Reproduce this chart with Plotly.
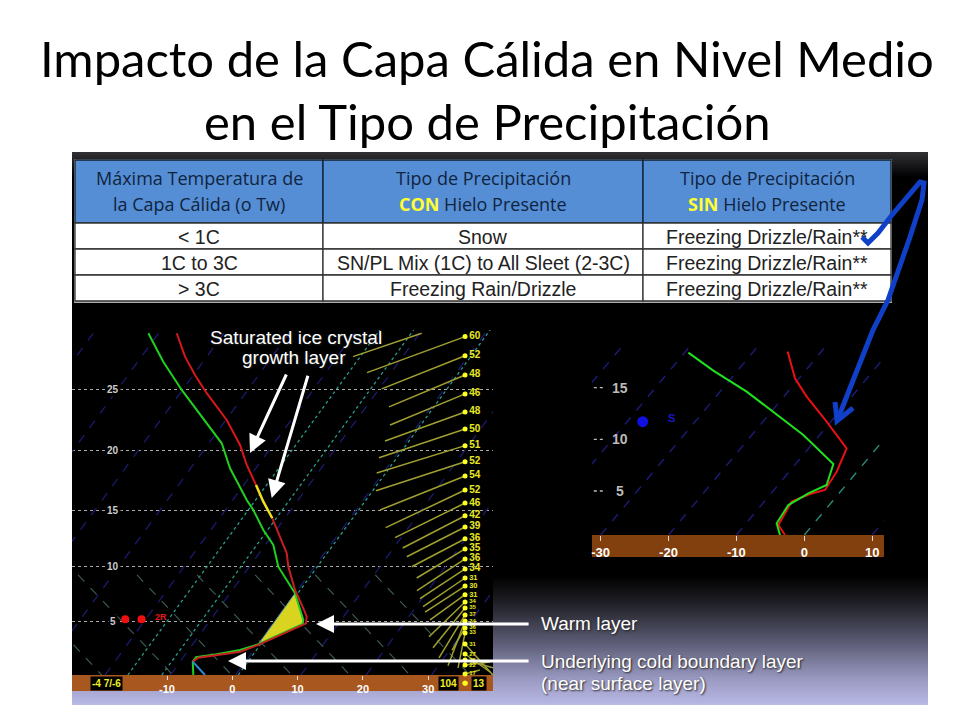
import numpy as np
import plotly.graph_objects as go

# tabla
table_header = [["Máxima Temperatura de", "la Capa Cálida (o Tw)"],
                ["Tipo de Precipitación", "<b style='color:#ffff33'>CON</b> Hielo Presente"],
                ["Tipo de Precipitación", "<b style='color:#ffff33'>SIN</b> Hielo Presente"]]
table_col1 = ["< 1C", "1C to 3C", "> 3C"]
table_col2 = ["Snow", "SN/PL Mix (1C) to All Sleet (2-3C)", "Freezing Rain/Drizzle"]
table_col3 = ["Freezing Drizzle/Rain**", "Freezing Drizzle/Rain**", "Freezing Drizzle/Rain**"]

# sondeo izquierdo (temperatura C, altura kft de la escala dibujada)
left_red_t = [-8.51, -7.24, -5.71, -3.92, -0.86, 1.18, 2.21, 3.63]
left_red_h = [29.82, 27.81, 26.23, 24.66, 22.36, 20.21, 18.49, 16.76]
left_yellow_t = [3.63, 4.75, 6.13]
left_yellow_h = [16.76, 15.33, 13.9]
left_red2_t = [6.13, 7.04, 8.33, 8.58, 9.6, 10.87, 11.39, 11.29, 3.98, 1.18, -2.39, -5.21, -6.06]
left_red2_h = [13.9, 12.61, 10.89, 9.73, 7.73, 6.15, 5.43, 4.86, 3.0, 2.42, 2.13, 1.9, 1.56]
left_blue_t = [-6.06, -4.18]
left_blue_h = [1.56, 0.41]
left_green_t = [-12.86, -10.57, -7.75, -5.45, -1.62, -0.35, 2.21, 3.22, 4.75, 6.28, 7.04, 9.6,
                10.87, 10.78, 3.98, 1.18, -2.39, -5.56, -6.06, -5.97]
left_green_h = [29.82, 27.37, 24.94, 23.22, 20.35, 18.2, 15.47, 14.61, 12.89, 11.6, 9.73, 7.44,
                5.15, 4.8, 3.06, 2.56, 2.19, 1.94, 1.56, 0.41]
warm_t = [9.6, 10.87, 10.78, 3.98, 9.6]
warm_h = [7.44, 5.15, 4.8, 3.06, 7.44]

# viento
wind_labels = ["60", "52", "48", "46", "48", "50", "51", "52", "54", "52", "46", "42", "39", "36", "35", "36",
               "34", "31", "30", "31", "34", "35", "37", "34", "36", "33", "31", "27", "25", "22", "17"]
wind_h = [29.53, 27.89, 26.23, 24.6, 23.05, 21.58, 20.15, 18.77, 17.54, 16.33, 15.21, 14.12, 13.15, 12.14,
          11.26, 10.4, 9.54, 8.76, 8.07, 7.32, 6.7, 6.18, 5.58, 5.06, 4.46, 4.03, 3.08, 2.22, 1.7, 1.27, 0.5]
barb_end_t = [20.63, 22.88, 24.0, 24.15, 23.38, 22.46, 22.11, 22.0, 22.62, 23.49, 24.92, 26.09, 26.71, 27.47,
              28.24, 28.28, 28.74, 29.2, 29.51, 30.28, 30.12, 30.74, 31.65, 33.03, 33.64, 34.57, 39.9, 39.46,
              40.2, 39.46, 37.9]
barb_end_h = [26.43, 25.03, 23.48, 21.93, 20.55, 19.11, 17.8, 16.27, 14.61, 13.09, 12.23, 11.34, 10.59, 9.73,
              8.76, 7.67, 6.98, 6.29, 5.83, 5.15, 3.71, 2.76, 1.88, 1.21, 2.56, 1.02, 0.41, 0.67, 1.0, 1.53, 0.84]
wind_axis_t = 35.64

# rejilla
left_ticks = [-10, 0, 10, 20, 30]
left_height_pos = [5, 9.73, 14.61, 19.69, 25]
left_height_labels = ["5", "10", "15", "20", "25"]
left_isotherms = [-59.5, -49.5, -39.5, -29.5, -19.5, -9.5, 0.5, 10.5, 20.5, 30.5]
left_teal = [-16, -10.8, 0.9]
left_cross_top = [-23.6, -14.6, -5.4, 3.5, 12.7, 21.9]

# sondeo derecho
right_red_t = [-2.45, -1.37, 0.35, 3.29, 6.24, 4.77, 3.05, 0.84, -1.86, -3.09, -3.82, -2.84]
right_red_h = [18.49, 15.91, 14.13, 11.71, 9.13, 6.87, 5.1, 4.71, 3.97, 2.52, 1.71, 0.74]
right_green_t = [-17.08, -13.4, -8.49, -4.56, -0.14, 4.28, 3.29, 0.59, -2.35, -4.07, -3.58]
right_green_h = [18.39, 16.65, 14.62, 12.68, 10.42, 7.61, 5.58, 4.77, 3.64, 1.87, 0.74]
right_ticks = [-30, -20, -10, 0, 10]
right_heights = [5, 10, 15]
right_isotherms = [-50, -40, -30, -20, -10, 10]

# trazo azul a mano (pixeles de la diapositiva)
ink_stroke = [(862, 237), (868, 243), (878, 233), (892, 215), (920, 182), (924, 183), (922, 200),
              (910, 237), (888, 300), (873, 330), (837, 421)]
ink_head = [(835, 402), (837, 421), (853, 408)]

# degradado del fondo
grad_y = [575, 600, 620, 640, 660, 680, 705]
grad_r = [0, 28, 58, 88, 122, 155, 185]
grad_b = [0, 34, 72, 112, 155, 195, 230]

# the page keeps its 8px body margin, so the figure sits inside it
W, H = 944, 704
OFFSET = 8


def px(x):
    return (x - OFFSET) / W


def py(y):
    return 1 - (y - OFFSET) / H


def ink_path(points):
    return "M " + " L ".join(f"{px(a):.4f},{py(b):.4f}" for a, b in points)


def rect(x0, x1, y0, y1, color, line=None, layer="below"):
    return dict(type="rect", xref="paper", yref="paper", x0=px(x0), x1=px(x1), y0=py(y1), y1=py(y0),
                fillcolor=color, line=dict(color=line, width=1.3) if line else dict(width=0), layer=layer)


def label(txt, x, y, font, anchor="center", **kw):
    return dict(text=txt, x=px(x), y=py(y), xref="paper", yref="paper", showarrow=False,
                xanchor=anchor, yanchor="middle", font=font, **kw)


fig = go.Figure()


def line(xs, ys, color, width=2, dash=None, axes=("x", "y")):
    fig.add_trace(go.Scatter(x=xs, y=ys, mode="lines", xaxis=axes[0], yaxis=axes[1], hoverinfo="skip",
                             line=dict(color=color, width=width, dash=dash)))


# rejilla izquierda
for t0 in left_isotherms:
    line([t0, t0 + 40], [0.41, 31.2], "#1c1c78", 1.2, "dash")
for t0 in left_teal:
    line([t0, t0 + 40], [0.41, 31.2], "#2a9a8c", 1.3, "dot")
for t0 in left_cross_top:
    line([t0, t0 + 14.5], [9.02, 0.41], "#3f5f58", 1.1, "dash")
line([-24.3, -20], [3.0, 0.41], "#3f5f58", 1.1, "dash")

# viento
line([18.48, 29.0], [27.81, 29.82], "#a0a030", 1.5)
for end_t, end_h, h in zip(barb_end_t, barb_end_h, wind_h):
    line([end_t, wind_axis_t], [end_h, h], "#a0a030", 1.5)
wind_sizes = [10 if h > 9 else 7.5 if h > 7 else 6 for h in wind_h]
fig.add_trace(go.Scatter(x=[wind_axis_t] * len(wind_h), y=wind_h, mode="markers+text", text=wind_labels,
                         textposition="middle right", hoverinfo="skip", cliponaxis=False,
                         textfont=dict(family="Liberation Sans", size=wind_sizes, color="#e8e820", weight=700),
                         marker=dict(color="#ffff20", size=5)))

# sondeo izquierdo
fig.add_trace(go.Scatter(x=warm_t, y=warm_h, mode="lines", fill="toself", fillcolor="#d8d420", hoverinfo="skip",
                         line=dict(color="#5090a0", width=1)))
line(left_green_t, left_green_h, "#20d020")
line(left_red_t, left_red_h, "#d81818")
line(left_yellow_t, left_yellow_h, "#f0e020", 2.5)
line(left_red2_t, left_red2_h, "#c82020")
line(left_blue_t, left_blue_h, "#3088d0")
fig.add_trace(go.Scatter(x=[-16.4, -13.9], y=[5.2, 5.2], mode="markers", hoverinfo="skip",
                         marker=dict(color="#f01010", size=8)))

# rejilla derecha
for t0 in right_isotherms:
    line([t0, t0 + 30], [0.74, 24.4], "#1c1c78", 1.4, "dash", ("x2", "y2"))
line([0, 30], [0.74, 24.4], "#2a8a7c", 1.4, "dash", ("x2", "y2"))
for h in right_heights:
    line([-31, -29.6], [h, h], "#bbbbbb", 1.3, "dot", ("x2", "y2"))

# sondeo derecho
line(right_red_t, right_red_h, "#e81010", 2, None, ("x2", "y2"))
line(right_green_t, right_green_h, "#20e020", 2, None, ("x2", "y2"))
fig.add_trace(go.Scatter(x=[-23.8], y=[11.71], mode="markers", xaxis="x2", yaxis="y2", hoverinfo="skip",
                         marker=dict(color="#1010e0", size=11)))

annotations = []
title_font = dict(family="Lato", size=49, color="black")
annotations.append(label("Impacto de la Capa Cálida en Nivel Medio", 487, 58, title_font))
annotations.append(label("en el Tipo de Precipitación", 487, 121, title_font))

# textos de la tabla
col_edges = [75, 323, 643, 891]
row_edges = [160, 223, 249, 275, 301]
head_font = dict(family="Open Sans", size=18, color="#10243e")
body_font = dict(family="Liberation Sans", size=19.5, color="#222222")
for c, (lines, body) in enumerate(zip(table_header, [table_col1, table_col2, table_col3])):
    cx = (col_edges[c] + col_edges[c + 1]) / 2
    for txt, y in zip(lines, [178, 204]):
        annotations.append(label(txt, cx, y, head_font))
    for r, txt in enumerate(body):
        annotations.append(label(txt, cx, (row_edges[r + 1] + row_edges[r + 2]) / 2 + 1, body_font))

white_font = dict(family="Liberation Sans", size=19, color="white", shadow="1px 1px 2px #222")
for txt, x, y, anchor in [("Saturated ice crystal", 296, 337, "center"), ("growth layer", 294, 358, "center"),
                          ("Warm layer", 539, 623, "left"), ("Underlying cold boundary layer", 539, 661, "left"),
                          ("(near surface layer)", 539, 683, "left")]:
    annotations.append(label(txt, x, y, white_font, anchor))

# flechas blancas
for hx, hy, tx, ty in [(2.71, 19.52, 8.38, 26.4), (6.03, 15.64, 11.64, 26.29),
                       (12.82, 4.8, 45.6, 4.8), (-0.66, 1.62, 45.6, 1.62)]:
    annotations.append(dict(x=hx, y=hy, ax=tx, ay=ty, xref="x", yref="y", axref="x", ayref="y", text="",
                            showarrow=True, arrowhead=2, arrowsize=1.2, arrowwidth=3, arrowcolor="white"))

# etiquetas de altura
for pos, lab in zip(left_height_pos, left_height_labels):
    annotations.append(dict(x=-18.2, y=pos, xref="x", yref="y", text=f"<b>{lab}</b>", showarrow=False, bgcolor="black",
                            font=dict(family="Liberation Sans", size=10, color="#cccccc")))
for h in right_heights:
    annotations.append(dict(x=-27.1, y=h, xref="x2", yref="y2", text=f"<b>{h}</b>", showarrow=False,
                            font=dict(family="Liberation Sans", size=14, color="#bbbbbb")))

annotations.append(dict(x=-10.9, y=5.43, xref="x", yref="y", text="<b>2R</b>", showarrow=False,
                        font=dict(family="Liberation Sans", size=9, color="#e81818")))
annotations.append(dict(x=-19.6, y=12.07, xref="x2", yref="y2", text="<b>S</b>", showarrow=False,
                        font=dict(family="Liberation Sans", size=11, color="#1818c8")))

# cajas de la franja izquierda
box_font = dict(family="Liberation Sans", size=10, color="#f0f020")
for txt, x in [("-4 7/-6", 106), ("104", 448), ("13", 479)]:
    annotations.append(label(f"<b>{txt}</b>", x, 683, box_font, bgcolor="black"))
annotations.append(label("●", 465, 683, dict(family="DejaVu Sans", size=7, color="#ffff20")))

# fondo
shapes = [rect(72, 928, 152, 705, "black")]
for i in range(12):
    g = int(48 - 4 * i)
    shapes.append(rect(72, 928, 152 + i * 2, 154 + i * 2, f"rgb({g},{g},{g + 3})"))
for y in range(575, 705):
    r = int(np.interp(y + 0.5, grad_y, grad_r))
    b = int(np.interp(y + 0.5, grad_y, grad_b))
    shapes.append(rect(72, 928, y, y + 1, f"rgb({r},{r},{b})"))
# paneles negros de los sondeos y franjas marrones de las escalas
shapes.append(rect(72, 493, 320, 675, "black"))
shapes.append(rect(72, 493, 675, 691, "#a8581e"))
shapes.append(rect(592, 884, 535, 557, "#82400e"))
# tabla
shapes.append(rect(74, 892, 159, 303, "#b0b0b0"))
for c in range(3):
    shapes.append(rect(col_edges[c], col_edges[c + 1], row_edges[0], row_edges[1], "#558ed5", "#10202f"))
    for r in range(1, 4):
        shapes.append(rect(col_edges[c], col_edges[c + 1], row_edges[r], row_edges[r + 1], "white", "#333333"))
# trazo azul
for pts in (ink_stroke, ink_head):
    shapes.append(dict(type="path", xref="paper", yref="paper", path=ink_path(pts), layer="above",
                       line=dict(color="#1040c8", width=5)))

tick_font = dict(family="Liberation Sans", size=11, color="white", weight=700)
fig.update_layout(
    width=W, height=H, margin=dict(l=0, r=0, t=0, b=0), paper_bgcolor="white", plot_bgcolor="black",
    showlegend=False, annotations=annotations, shapes=shapes,
    xaxis=dict(domain=[px(72), px(493)], range=[-24.55, 39.92], tickmode="array", tickvals=left_ticks,
               ticktext=[str(t) for t in left_ticks], ticks="outside", ticklen=4, tickcolor="#dddddd",
               showgrid=False, zeroline=False, tickfont=tick_font),
    yaxis=dict(domain=[py(675), py(330)], range=[0.413, 30.1], tickmode="array", tickvals=left_height_pos,
               showticklabels=False, ticks="", showgrid=True, griddash="dot", gridcolor="#aaaaaa", gridwidth=1.3,
               zeroline=False),
    xaxis2=dict(domain=[px(592), px(884)], range=[-31.27, 11.74], anchor="y2", tickmode="array", tickvals=right_ticks,
                ticktext=[str(t) for t in right_ticks], ticks="outside", ticklen=5, tickcolor="#dddddd",
                showgrid=False, zeroline=False, tickfont=dict(tick_font, size=13)),
    yaxis2=dict(domain=[py(535), py(348)], range=[0.74, 18.84], anchor="x2", showticklabels=False, showgrid=False,
                zeroline=False),
)

fig.write_html("out.html")
